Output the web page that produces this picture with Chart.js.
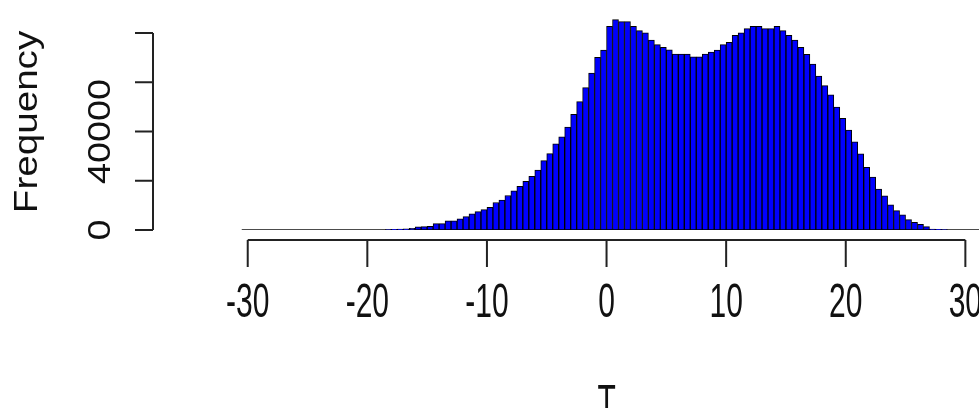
<!DOCTYPE html>
<html>
<head>
<meta charset="utf-8">
<script src="https://cdn.jsdelivr.net/npm/chart.js@4/dist/chart.umd.min.js"></script>
<style>
html,body{margin:0;padding:0;background:#fff;}
canvas{display:block;}
</style>
</head>
<body>
<canvas id="c" width="979" height="408"></canvas>
<script>
// Histogram of T: bins of width 0.5 starting at -18.5
const binStart = -18.5;
const binWidth = 0.5;
const counts = [150,250,350,450,650,1300,1400,1450,2600,2600,3700,3700,4500,5450,6530,7490,8300,9250,11160,12110,14020,15920,17690,19730,21780,24360,28170,31030,34980,37840,41780,46950,52130,57840,63690,70090,73090,82750,85470,84650,84650,82750,80980,80030,77170,75260,74170,73220,71450,71450,71450,70360,70360,71450,72270,73090,75260,76220,79070,80030,81800,82750,82750,81800,81800,82750,80980,79070,77170,74170,71320,67370,62470,58660,54850,49950,45320,40560,35790,30890,25450,21500,16600,13880,10210,7890,6120,4220,3130,2310,1360,400,250,150];
// full range of histogram breaks (empty bins drawn as a flat line)
const breaksRange = [-30.5, 32];
const xTicks = [-30,-20,-10,0,10,20,30];
const yTicks = [0,20000,40000,60000,80000];
const yTickLabels = ['0','','40000','',''];
const xTitle = 'T';
const yTitle = 'Frequency';

const barData = counts.map((c,i)=>({x: binStart + binWidth*(i+0.5), y: c}));
const baseData = breaksRange.map(v=>({x:v, y:0}));

const FONT = '"Liberation Sans", Arial, sans-serif';

const rAxes = {
  id:'rAxes',
  afterDraw(chart){
    const ctx = chart.ctx;
    const xs = chart.scales.x, ys = chart.scales.y;
    const ca = chart.chartArea;
    ctx.save();
    ctx.strokeStyle = '#222';
    ctx.fillStyle = '#111';
    ctx.lineWidth = 2;
    // x axis
    const axY = 240, tickEnd = 267;
    ctx.beginPath();
    ctx.moveTo(xs.getPixelForValue(xTicks[0]), axY);
    ctx.lineTo(xs.getPixelForValue(xTicks[xTicks.length-1]), axY);
    xTicks.forEach(t=>{
      const p = xs.getPixelForValue(t);
      ctx.moveTo(p, axY); ctx.lineTo(p, tickEnd);
    });
    ctx.stroke();
    ctx.textAlign = 'center';
    ctx.textBaseline = 'alphabetic';
    ctx.font = '30px ' + FONT;
    xTicks.forEach(t=>{
      const p = xs.getPixelForValue(t);
      ctx.save();
      ctx.translate(p, 317);
      ctx.scale(1, 1.6);
      ctx.fillText(String(t), 0, 0);
      ctx.restore();
    });
    // x title
    ctx.save();
    ctx.translate(xs.getPixelForValue(0), 418);
    ctx.scale(1, 1.6);
    ctx.fillText(xTitle, 0, 0);
    ctx.restore();
    // y axis
    const axX = ca.left;
    ctx.beginPath();
    ctx.moveTo(axX, ys.getPixelForValue(yTicks[0]));
    ctx.lineTo(axX, ys.getPixelForValue(yTicks[yTicks.length-1]));
    yTicks.forEach(t=>{
      const p = ys.getPixelForValue(t);
      ctx.moveTo(axX, p); ctx.lineTo(axX-18, p);
    });
    ctx.stroke();
    ctx.font = '32px ' + FONT;
    yTicks.forEach((t,i)=>{
      const lab = yTickLabels[i];
      if(!lab) return;
      const p = ys.getPixelForValue(t);
      ctx.save();
      ctx.translate(110, p);
      ctx.scale(1, 1.18);
      ctx.rotate(-Math.PI/2);
      ctx.fillText(lab, 0, 0);
      ctx.restore();
    });
    // y title
    ctx.font = '33px ' + FONT;
    ctx.save();
    ctx.translate(37, 122);
    ctx.scale(1, 1.17);
    ctx.rotate(-Math.PI/2);
    ctx.fillText(yTitle, 0, 0);
    ctx.restore();
    ctx.restore();
  }
};

new Chart(document.getElementById('c'), {
  data: {
    datasets: [
      {type:'line', data: baseData, borderColor:'#111', borderWidth:1.5, pointRadius:0, order:2},
      {type:'bar', data: barData, backgroundColor:'#0000FF', borderColor:'#000', borderWidth:1,
       borderSkipped:false, barPercentage:1, categoryPercentage:1, order:1}
    ]
  },
  options: {
    responsive:false,
    animation:false,
    devicePixelRatio:1,
    layout:{padding:{left:153, right:0, top:8.4, bottom:178}},
    scales:{
      x:{type:'linear', min:-37.92, max:31.14, offset:false, display:false},
      y:{min:0, max:90000, display:false}
    },
    plugins:{legend:{display:false}, tooltip:{enabled:false}}
  },
  plugins:[rAxes]
});
</script>
</body>
</html>
